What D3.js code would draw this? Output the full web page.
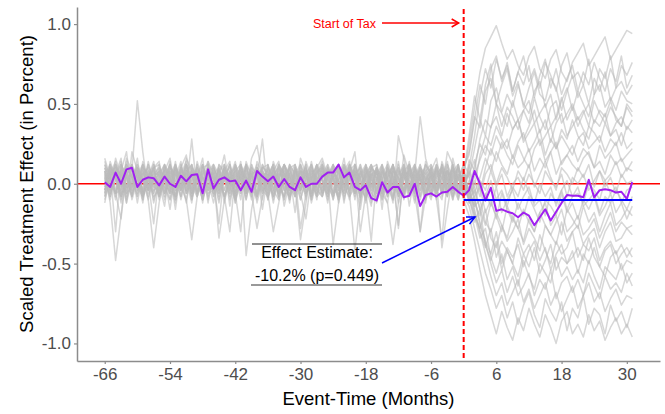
<!DOCTYPE html>
<html>
<head>
<meta charset="utf-8">
<script src="https://cdn.jsdelivr.net/npm/d3@7"></script>
<style>
body { margin: 0; background: #fff; }
text { font-family: "Liberation Sans", Arial, sans-serif; }
</style>
</head>
<body>
<svg id="chart" width="665" height="414"></svg>
<script>
// event time in months, -66 .. 31 (tax starts at 0)
var months = d3.range(-66, 32);
var xTicks = [-66, -54, -42, -30, -18, -6, 6, 18, 30];
var yTicks = [-1, -0.5, 0, 0.5, 1];
var taxStart = 0;
var effectEstimate = -0.102;
var pValue = 0.449;

// treated unit (purple)
var treated = [
    0.01, -0.02, 0.07, 0.0, 0.09, 0.10, -0.02, 0.025, 0.04, 0.035,
    -0.01, 0.045, 0.0, -0.02, 0.05, 0.015, 0.055, 0.06, -0.06, 0.09,
    -0.03, 0.025, 0.04, 0.015, 0.02, -0.04, 0.02, -0.05, 0.08, 0.045,
    0.015, 0.045, -0.02, 0.03, -0.02, -0.04, 0.04, -0.02, 0.0, 0.0,
    0.045, 0.07, 0.07, 0.12, 0.04, 0.07, -0.02, -0.04, -0.01, -0.09,
    -0.105, 0.01, -0.055, -0.02, -0.02, -0.085, -0.075, 0.0, -0.14, -0.07,
    -0.06, -0.08, -0.055, -0.05, -0.02, -0.05, -0.075,
    -0.04, 0.08, 0.0, -0.105, -0.025, -0.17, -0.16, -0.175, -0.185, -0.21,
    -0.18, -0.2, -0.26, -0.21, -0.16, -0.23, -0.175, -0.12, -0.07, -0.075,
    -0.075, -0.085, 0.025, -0.085, -0.04, -0.035, -0.04, -0.055, -0.05, -0.095, 0.01
];

// placebo runs, in hundredths. pre = months -66..0, post = months 1..31
var placeboPre = [
    [10,-6,16,4,-12,20,8,-4,14,0, -8,12,6,-16,10,18,-2,4,-10,14, 6,-4,12,-14,8,2,-6,16,24,4, -10,8,14,-4,6,-18,12,2,-8,10, 16,4,-6,12,-2,8,20,-12,6,-4, 10,-16,14,4,-8,18,6,-2,12,-6, 8,16,-4,20,12,-10,6],
    [-4,8,-30,12,6,-2,16,-8,4,10, 14,-6,2,-12,8,4,-4,12,-10,6, -2,10,-8,4,14,-6,12,-4,8,-16, 6,-12,4,10,-2,-8,16,6,-6,12, -4,10,2,-10,8,14,-6,4,-12,6, 8,4,-8,12,-4,10,-14,6,2,-6, 4,-10,12,-2,8,4,-8],
    [16,4,-10,8,20,-6,2,12,-4,8, 0,-14,10,6,-4,16,8,-8,12,2, -12,4,18,-2,6,-10,14,4,-6,10, 12,-4,8,-14,2,10,-6,14,4,-8, 6,12,-8,2,16,-4,8,-10,12,4, -6,10,2,-12,30,16,-4,10,-8,14, -4,12,6,-8,16,2,10],
    [6,-12,-48,-20,10,4,-8,14,2,-6, 10,4,-16,8,-2,12,-6,4,16,-10, 4,-8,12,2,-6,-30,8,-4,10,6, -6,14,4,-10,8,2,-4,12,-8,6, 12,-6,4,10,-12,8,2,-16,6,12, 4,-8,10,-2,14,-6,4,12,-10,2, 10,-6,4,14,-8,6,2],
    [-8,12,2,-4,16,8,52,20,-6,4, 8,-2,14,-10,6,2,-12,10,4,-4, 12,6,-8,4,-2,14,-6,8,-12,2, -4,8,-10,12,6,-2,-35,-12,8,4, 2,-8,12,-4,10,6,-6,8,-2,-14, 12,-4,6,10,-8,2,14,-6,8,4, -6,10,-2,8,-4,12,-8],
    [4,10,-6,-22,8,-2,6,-10,12,2, -6,8,16,-4,2,-12,10,6,-8,12, 2,-25,8,14,-10,4,-2,10,6,-4, 10,4,-8,2,12,-6,8,-4,14,-2, -8,6,12,-4,2,-10,8,4,-6,10, 6,-2,-12,8,4,-6,10,2,-4,8, 12,-4,8,2,-10,6,4],
    [-12,6,14,-2,4,-8,10,2,-4,12, 4,-10,6,12,-2,8,-6,14,2,-8, 10,2,-4,8,-12,6,12,-2,4,28, -6,10,2,-8,12,4,-4,8,-10,6, 14,-2,6,-8,4,10,-4,12,2,-6, -10,8,4,-4,12,-8,6,2,10,-2, 6,-8,14,4,-2,10,-4],
    [8,-4,6,16,-10,2,12,-6,4,-2, -4,12,2,-8,10,-6,4,8,-12,6, 6,-10,4,12,2,-4,8,-6,-28,-8, 4,12,-6,2,-10,8,4,-2,10,-6, -2,8,-10,4,12,-6,-42,-10,8,2, 8,-6,12,2,-8,6,-4,10,4,-10, 2,8,-6,12,4,-2,8],
    [-6,14,4,-10,6,12,-4,8,-2,10, 12,2,-6,10,4,-10,8,-4,6,14, -8,4,10,-6,12,2,-4,10,-8,4, 8,-2,12,6,-8,4,-28,-6,2,12, 4,-10,8,2,-6,12,4,-8,10,-4, 2,12,-6,8,-4,10,2,-12,6,4, -8,6,10,-4,12,-6,2],
    [12,-2,8,-8,14,4,-6,10,6,-10, 2,8,-4,14,-8,6,12,-2,4,-6, -4,12,6,-10,2,8,-6,12,4,-2, 6,-8,2,12,4,-6,8,-10,12,2, 10,4,-6,8,-2,12,6,-4,-8,10, -4,6,12,-8,2,8,-2,6,42,16, 4,-2,10,-6,8,12,-4],
    [-10,4,12,-6,-2,10,4,-12,8,2, 6,-8,12,2,-4,10,-10,6,12,-4, 2,8,-12,6,10,-4,4,-8,14,6, -2,6,10,-4,-8,12,2,6,-4,8, 8,-4,2,12,-10,4,8,-30,-6,2, -12,4,8,-2,10,-6,12,4,-8,6, 10,2,-6,8,-10,4,12],
    [2,-8,10,6,-4,12,-2,-8,4,14, -10,4,8,-2,12,-6,2,10,-4,8, 12,-2,6,-8,4,10,-45,-16,2,-6, 4,10,-6,12,2,-4,8,6,-10,4, -6,12,4,-8,6,2,10,-4,12,-2, 8,-10,4,12,-6,2,8,-4,10,6, -2,12,-8,4,10,-6,6],
    [6,12,-4,8,-12,2,10,-6,-2,8, -4,10,4,-8,6,14,-6,2,8,-12, 8,-6,2,12,-4,6,-10,8,4,10, -10,4,12,-2,6,-8,4,10,-6,2, 12,-2,-8,10,4,-6,12,2,-10,6, 4,-6,-12,-38,-12,8,4,-6,10,2, 8,-4,12,2,-6,10,-2],
    [-4,10,6,-8,12,4,-2,8,-10,-40, -12,6,2,10,-4,8,12,-6,4,-2, 10,4,-8,-30,6,2,-4,12,-6,8, 2,-6,10,4,-12,8,-2,6,12,-4, -8,6,10,-2,4,12,-6,8,-4,10, 6,2,-8,10,4,-4,12,-10,2,8, -6,10,4,-8,12,-2,6],
    [14,2,-6,10,4,-8,6,12,-4,2, -2,8,-10,4,14,-4,6,-8,10,4, -6,10,2,-4,8,12,-8,2,6,-10, 12,-4,6,8,-6,2,-10,4,12,-2, 4,10,-6,2,-4,8,12,-8,6,-12, -2,8,4,-10,6,12,-4,8,-30,2, 10,-6,4,8,-4,12,-8],
    [-2,8,4,-12,6,10,-4,2,12,-6, 8,4,-6,12,-2,-10,-35,-8,2,6, -4,12,8,-2,-10,6,4,-6,10,2, 6,-10,4,12,-4,8,2,-8,6,10, -6,4,-38,-12,10,4,-8,6,12,-2, 10,-4,6,2,-12,8,-6,12,4,-8, 4,8,-6,10,-2,-10,4],
    [8,-6,2,14,-4,6,10,-8,4,12, -6,2,12,-4,8,6,-10,4,-2,10, 4,-12,6,10,-2,8,-6,4,12,-4, -8,6,2,-4,10,12,-6,-22,4,8, 2,-8,12,6,-4,10,2,-6,8,4, -10,6,2,12,-4,-8,10,4,-2,12, 6,-4,-10,8,2,12,-6],
    [-8,4,12,2,-6,8,-12,6,10,-2, 4,12,-4,-8,10,2,6,-6,12,-4, 8,-2,10,4,-6,12,2,-10,6,4, -4,10,-8,6,2,-6,12,4,-2,8, 10,-6,4,12,-8,2,6,10,-4,-36, 4,10,-6,2,8,-4,12,-8,6,10, -4,2,-40,-16,6,-6,4],
    [4,-10,8,6,-2,12,4,-6,2,10, -8,6,-2,12,4,-6,10,2,-10,8, 6,-34,-10,2,8,-4,12,6,-8,2, 12,2,-6,8,-10,4,10,-2,6,-8, -4,8,2,-10,12,6,-6,4,10,-2, 8,-6,10,4,-2,12,-8,2,6,-10, 12,4,-2,-8,6,10,-4],
    [-2,6,-8,12,4,-4,8,2,-10,6, 10,-4,8,2,-8,12,4,-6,6,-2, -4,8,12,-6,2,10,-2,6,-8,12, 4,-8,10,2,-4,6,12,-6,8,-4, 6,2,-10,8,4,-6,12,-2,6,8, -4,12,2,-8,6,10,-4,8,2,-6, 8,-10,-35,4,-4,8,2],
    [10,2,-6,4,12,-8,6,-4,8,-12, 2,-6,10,6,-4,8,-8,12,-2,4, 6,10,-4,8,-12,2,6,-8,10,-2, -6,-30,-12,4,10,-2,8,-6,4,12, -8,4,12,-4,2,8,-10,6,-2,10, 12,-2,-6,8,4,-10,6,12,-4,2, -8,6,10,-4,2,-6,8],
    [-6,12,4,-2,8,-10,2,10,-4,6, 6,-2,-10,8,2,12,-4,6,-8,10, -8,2,6,-4,10,-6,12,-2,4,-6, 10,4,-2,-8,6,12,-4,8,-12,2, 2,-6,8,12,-2,-8,4,10,-4,6, -6,8,-2,4,10,-4,8,-6,-30,-8, 2,10,-4,6,-8,4,-2],
    [6,-4,10,-8,2,6,-2,12,4,-8, -4,10,6,-6,12,-2,8,4,-10,2, 12,-4,2,8,-6,10,4,-2,-10,8, -2,8,4,-10,12,6,-4,2,10,-6, 8,-4,6,-12,2,10,6,-8,4,12, 2,-10,8,6,-28,12,-6,4,8,-2, -10,4,8,-2,12,-4,6],
    [2,8,-6,-4,12,4,-8,6,2,10, -8,4,12,-2,6,-4,28,-6,8,2, 4,-6,10,2,-8,12,-4,6,-2,10, 8,-4,-10,12,4,-6,2,10,-8,6, -2,10,4,-6,8,-4,12,2,-10,4, 10,4,-8,2,-26,6,-4,10,2,12, 6,-2,8,-6,4,10,-8],
    [-4,10,2,8,-6,-2,12,4,-8,2, 12,-6,4,10,-2,6,-8,2,12,-4, -2,6,-8,4,12,-4,10,2,-6,12, 4,12,-2,6,-8,10,4,-6,2,-8, 10,-4,6,2,12,-8,-2,6,10,-6, 4,8,-4,12,2,-6,10,-2,4,-12, 8,-6,2,12,-4,6,-10],
    [8,-2,6,12,-8,4,10,-4,2,-25, 6,12,-4,8,-10,4,2,-6,10,12, -6,2,8,-2,12,4,-10,6,8,-4, 2,-8,12,6,-4,10,-2,8,4,-10, 12,6,-2,-8,10,4,8,-6,2,12, -8,2,10,4,-6,8,12,-4,6,2, 4,12,-6,8,2,-8,10],
    [4,-8,12,2,6,-4,8,-10,6,4, 8,2,-6,10,4,12,-2,-8,6,10, -4,8,2,12,-6,4,10,-2,-8,6, 6,12,-4,2,10,-8,4,12,-6,2, -6,4,10,-2,6,12,-4,8,2,-10, 10,-6,4,12,-2,6,-8,4,12,2, 4,-6,12,2,8,-4,6],
    [12,4,-6,8,-2,10,6,-8,4,-4, -2,8,4,-10,6,-4,12,2,-6,8, 10,-4,6,2,-8,12,4,-6,10,2, -8,2,6,12,-4,8,-10,4,2,12, 4,-12,8,2,-6,10,4,12,-8,6, 6,12,-2,-10,8,4,2,-6,10,-4, -2,8,4,-6,10,2,12]
];

var placeboPost = [
    [25,48,70,85,92,99,88,78,84,74, 68,80,86,72,66,78,84,70,64,76, 82,88,74,80,86,92,78,84,90,96,94],
    [10,30,55,72,60,78,66,74,58,70, 80,64,72,60,76,68,58,74,82,66, 70,62,78,56,72,66,80,60,74,68,76],
    [20,42,35,58,66,50,62,72,55,64, 48,60,70,56,52,66,60,46,58,68, 54,62,50,66,58,70,52,60,64,56,62],
    [5,22,40,30,52,60,45,56,48,62, 50,44,58,64,48,56,40,52,60,46, 58,50,42,56,62,48,54,46,58,52,50],
    [15,8,28,40,35,50,44,36,52,40, 46,38,54,42,34,48,52,38,44,50, 40,46,36,52,44,38,48,42,36,50,45],
    [-5,12,25,18,36,42,30,44,34,40, 28,36,46,32,40,26,38,44,30,36, 42,34,28,40,36,44,30,38,42,34,40],
    [8,-2,18,30,24,36,28,22,34,40, 26,32,38,24,30,36,22,34,28,40, 30,24,36,32,26,38,30,34,24,36,32],
    [-8,5,15,24,18,30,22,28,16,26, 32,20,26,34,18,28,22,30,24,18, 28,32,22,26,30,20,28,24,32,22,26],
    [6,15,-5,10,22,14,26,18,12,24, 16,10,22,28,14,20,26,12,18,24, 14,22,18,10,24,16,20,26,14,18,22],
    [12,-6,4,16,8,20,12,6,18,10, 14,22,8,16,10,20,6,14,18,12, 8,16,20,10,14,6,18,12,16,8,14],
    [-12,2,-8,6,12,0,10,4,-4,8, 2,12,-2,6,14,4,-4,10,6,0, 10,4,12,-2,8,2,6,14,4,10,8],
    [-6,-14,2,-4,8,-2,6,-8,0,4, -4,6,0,-6,8,2,-2,6,-8,4, 0,6,-4,2,8,-2,4,-6,6,0,2],
    [-10,-4,-16,-8,2,-10,-4,-14,-2,-8, 4,-6,-12,0,-8,-2,-14,-4,2,-8, -6,-12,0,-4,-10,2,-6,-2,-12,-4,-2],
    [4,-12,-20,-6,-14,-2,-18,-10,-4,-16, -8,-2,-14,-10,-20,-6,-12,-4,-16,-8, -2,-14,-10,-6,-18,-8,-12,-4,-10,-16,-8],
    [2,-8,-2,-18,-10,-22,-6,-16,-24,-12, -20,-8,-16,-24,-10,-14,-20,-6,-18,-12, -22,-10,-16,-8,-20,-14,-6,-18,-12,-22,-14],
    [-6,-2,-16,-26,-12,-20,-30,-14,-22,-28, -16,-24,-30,-18,-12,-26,-20,-32,-16,-22, -28,-14,-24,-18,-30,-20,-12,-26,-22,-16,-20],
    [-4,-14,-10,-24,-30,-18,-26,-34,-20,-28, -36,-22,-30,-18,-26,-32,-24,-16,-30,-26, -20,-32,-28,-22,-34,-26,-18,-30,-24,-28,-26],
    [-10,-20,-28,-16,-34,-40,-26,-36,-30,-22, -38,-28,-34,-42,-26,-32,-38,-24,-36,-30, -26,-38,-32,-28,-40,-30,-24,-36,-34,-28,-32],
    [-2,-18,-30,-40,-28,-46,-36,-42,-50,-34, -44,-38,-48,-32,-42,-50,-36,-44,-40,-30, -46,-38,-42,-34,-48,-40,-36,-44,-38,-46,-40],
    [-12,-8,-26,-38,-48,-36,-54,-42,-50,-58, -44,-52,-40,-56,-48,-38,-54,-46,-50,-42, -56,-44,-50,-40,-52,-58,-46,-42,-54,-48,-50],
    [-6,-20,-34,-28,-46,-56,-44,-60,-52,-64, -48,-58,-66,-50,-56,-62,-46,-58,-52,-60, -54,-62,-48,-58,-66,-52,-56,-60,-50,-62,-56],
    [-8,-24,-16,-38,-50,-62,-54,-68,-58,-70, -64,-56,-70,-60,-66,-54,-72,-62,-58,-68, -60,-70,-56,-64,-72,-58,-66,-62,-68,-56,-64],
    [-4,-16,-30,-44,-58,-70,-62,-76,-68,-60, -74,-66,-78,-70,-62,-76,-68,-80,-72,-64, -78,-70,-62,-74,-68,-80,-72,-66,-76,-70,-72],
    [-14,-28,-42,-56,-66,-78,-70,-84,-74,-88, -76,-68,-82,-90,-72,-80,-86,-74,-92,-78, -84,-70,-88,-78,-82,-94,-76,-86,-80,-90,-78],
    [-20,-36,-54,-70,-82,-94,-80,-90,-98,-84, -92,-78,-88,-96,-82,-90,-100,-86,-80,-94, -88,-96,-82,-92,-86,-98,-90,-84,-94,-88,-96],
    [18,40,62,50,72,80,64,76,58,70, 62,74,54,68,78,60,72,56,66,74, 58,70,62,76,66,58,72,64,80,60,68],
    [30,55,40,62,75,50,36,48,42,34, 46,52,38,44,50,36,42,54,40,48, 36,44,50,38,46,42,52,40,36,48,42],
    [6,-10,-24,-36,-44,-30,-50,-40,-46,-38, -52,-42,-36,-48,-40,-54,-44,-38,-50,-46, -40,-48,-34,-46,-52,-42,-38,-50,-44,-40,-46]
];

var svg = d3.select("#chart");

var x = d3.scaleLinear().domain([-71.1, 36.1]).range([77, 660]);
var y = d3.scaleLinear().domain([-1.11, 1.107]).range([361, 7]);

var line = d3.line()
    .x(function(d) { return x(d[0]); })
    .y(function(d) { return y(d[1]); });

// zero line sits under the placebo runs
svg.append("line")
    .attr("x1", x.range()[0]).attr("x2", x.range()[1])
    .attr("y1", y(0)).attr("y2", y(0))
    .attr("stroke", "red")
    .attr("stroke-width", 1.6);

var nPre = months.indexOf(taxStart) + 1;
var runs = placeboPre.map(function(pre, k) {
    var pts = pre.map(function(v, i) { return [months[i], v / 100]; });
    placeboPost[k].forEach(function(v, i) { pts.push([months[nPre + i], v / 100]); });
    return pts;
});

svg.append("g")
    .selectAll("path")
    .data(runs)
    .enter().append("path")
    .attr("d", line)
    .attr("fill", "none")
    .attr("stroke", "#bababa")
    .attr("stroke-opacity", 0.58)
    .attr("stroke-width", 1.5)
    .attr("stroke-linejoin", "round");

// treated unit
svg.append("path")
    .datum(treated.map(function(v, i) { return [months[i], v]; }))
    .attr("d", line)
    .attr("fill", "none")
    .attr("stroke", "#a020f0")
    .attr("stroke-width", 2)
    .attr("stroke-linejoin", "round");

// average post-period effect
svg.append("line")
    .attr("x1", x(taxStart)).attr("x2", x(months[months.length - 1]))
    .attr("y1", y(effectEstimate)).attr("y2", y(effectEstimate))
    .attr("stroke", "blue")
    .attr("stroke-width", 2);

// start of tax
svg.append("line")
    .attr("x1", x(taxStart)).attr("x2", x(taxStart))
    .attr("y1", y.range()[1] + 2).attr("y2", y.range()[0])
    .attr("stroke", "red")
    .attr("stroke-width", 2)
    .attr("stroke-dasharray", "5,3");

// axes
var xAxis = svg.append("g")
    .attr("transform", "translate(0," + y.range()[0] + ")")
    .call(d3.axisBottom(x).tickValues(xTicks).tickSize(3).tickPadding(4).tickSizeOuter(0)
        .tickFormat(function(d) { return String(d); }));

var yAxis = svg.append("g")
    .attr("transform", "translate(" + x.range()[0] + ",0)")
    .call(d3.axisLeft(y).tickValues(yTicks).tickSize(3).tickPadding(3).tickSizeOuter(0)
        .tickFormat(function(d) { return d.toFixed(1); }));

[xAxis, yAxis].forEach(function(g) {
    g.select(".domain").attr("stroke", "#8c8c8c").attr("stroke-width", 1.5);
    g.selectAll(".tick line").attr("stroke", "#8c8c8c").attr("stroke-width", 1.2);
    g.selectAll(".tick text")
        .attr("fill", "#4d4d4d")
        .style("font-size", "17px")
        .style("font-family", "'Liberation Sans', Arial, sans-serif");
});

svg.append("text")
    .attr("x", (x.range()[0] + x.range()[1]) / 2)
    .attr("y", 405)
    .attr("text-anchor", "middle")
    .style("font-size", "18.5px")
    .text("Event-Time (Months)");

svg.append("text")
    .attr("transform", "translate(33," + (y.range()[0] + y.range()[1]) / 2 + ") rotate(-90)")
    .attr("text-anchor", "middle")
    .style("font-size", "18.5px")
    .text("Scaled Treatment Effect (in Percent)");

// "Start of Tax" label and arrow
svg.append("text")
    .attr("x", 376).attr("y", 28)
    .attr("text-anchor", "end")
    .attr("fill", "red")
    .style("font-size", "12.5px")
    .text("Start of Tax");

svg.append("line")
    .attr("x1", 382).attr("x2", x(taxStart) - 5)
    .attr("y1", 23).attr("y2", 23)
    .attr("stroke", "red").attr("stroke-width", 1.5);
svg.append("path")
    .attr("d", "M" + (x(taxStart) - 12) + ",19L" + (x(taxStart) - 5) + ",23L" + (x(taxStart) - 12) + ",27")
    .attr("fill", "none").attr("stroke", "red").attr("stroke-width", 1.5);

// effect estimate box
svg.append("line")
    .attr("x1", 252).attr("x2", 382).attr("y1", 244).attr("y2", 244)
    .attr("stroke", "#222").attr("stroke-width", 1);
svg.append("text")
    .attr("x", 317).attr("y", 258)
    .attr("text-anchor", "middle")
    .style("font-size", "16px")
    .text("Effect Estimate:");
svg.append("text")
    .attr("x", 317).attr("y", 281)
    .attr("text-anchor", "middle")
    .style("font-size", "16px")
    .text((effectEstimate * 100).toFixed(1) + "% (p=" + pValue.toFixed(3) + ")");
svg.append("line")
    .attr("x1", 251).attr("x2", 382).attr("y1", 285).attr("y2", 285)
    .attr("stroke", "#777").attr("stroke-width", 1.5);

// blue arrow to the estimate line
var ax0 = 382, ay0 = 263, ax1 = 475, ay1 = 217;
var ang = Math.atan2(ay1 - ay0, ax1 - ax0);
var head = 9, spread = 0.45;
svg.append("line")
    .attr("x1", ax0).attr("y1", ay0).attr("x2", ax1).attr("y2", ay1)
    .attr("stroke", "blue").attr("stroke-width", 1.5);
svg.append("path")
    .attr("d", "M" + (ax1 - head * Math.cos(ang - spread)) + "," + (ay1 - head * Math.sin(ang - spread)) +
        "L" + ax1 + "," + ay1 +
        "L" + (ax1 - head * Math.cos(ang + spread)) + "," + (ay1 - head * Math.sin(ang + spread)))
    .attr("fill", "none").attr("stroke", "blue").attr("stroke-width", 1.5);
</script>
</body>
</html>
